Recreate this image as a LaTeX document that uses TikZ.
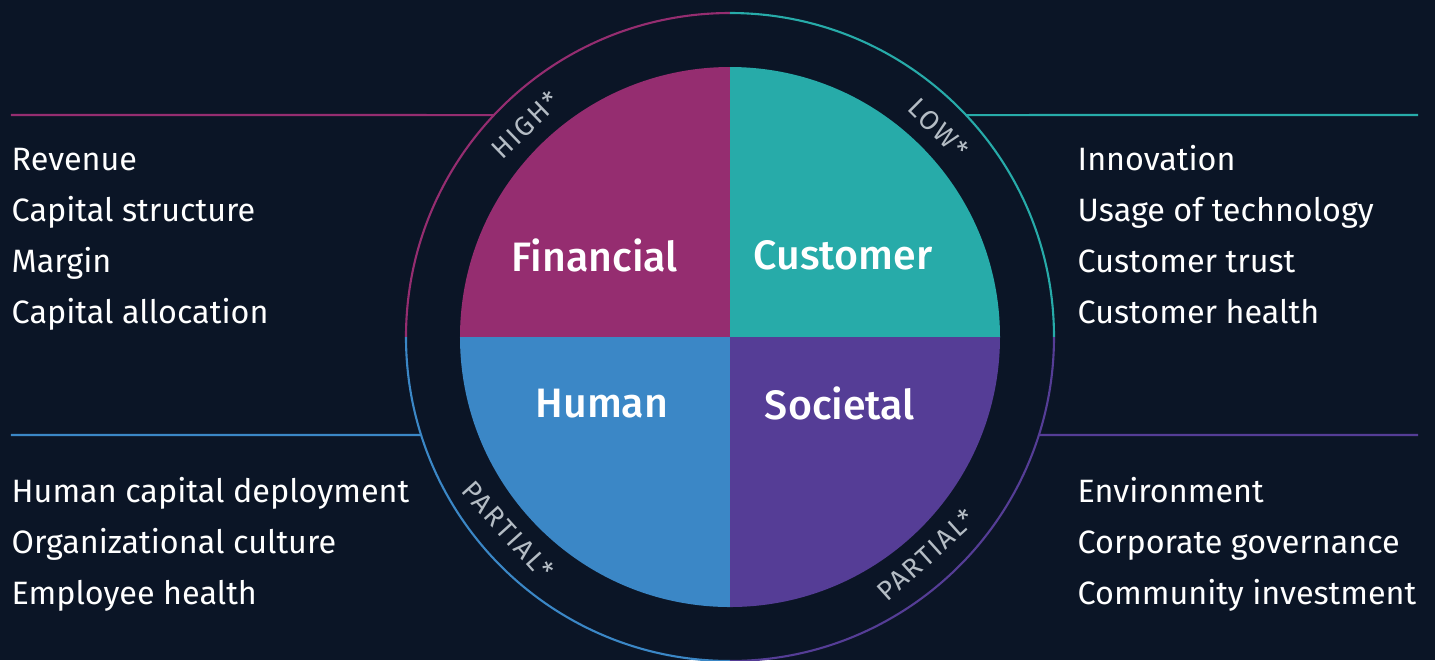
\documentclass[tikz,border=0pt]{standalone}
\usepackage{fontspec}
\setmainfont{Fira Sans}[BoldFont={Fira Sans Medium}]
\usepackage{tikz}

\definecolor{bgnavy}{HTML}{0B1526}
\definecolor{finmag}{HTML}{952D70}
\definecolor{custeal}{HTML}{27ABA9}
\definecolor{humblue}{HTML}{3B87C6}
\definecolor{socpurp}{HTML}{553D96}
\definecolor{ringgray}{HTML}{B4BCC4}

\tikzset{
  listitem/.style={anchor=base west, inner sep=0pt, text=white, font=\fontsize{9.2}{12}\selectfont},
  quadlabel/.style={text=white, inner sep=0pt, font=\fontsize{11.7}{14}\selectfont\bfseries},
  ringlabel/.style={text=ringgray, inner sep=0pt, font=\fontsize{7.7}{9}\selectfont\addfontfeatures{LetterSpace=8}},
  ringline/.style={line width=0.6pt},
}

\begin{document}
\begin{tikzpicture}

% Background
\fill[bgnavy] (-7.30,-3.23) rectangle (7.05,3.37);
\useasboundingbox (-7.30,-3.23) rectangle (7.05,3.37);

% Quadrants
\fill[finmag] (0,0) -- (0,2.7) arc[start angle=90, end angle=180, radius=2.7] -- cycle;
\fill[custeal] (0,0) -- (2.7,0) arc[start angle=0, end angle=90, radius=2.7] -- cycle;
\fill[humblue] (0,0) -- (-2.7,0) arc[start angle=180, end angle=270, radius=2.7] -- cycle;
\fill[socpurp] (0,0) -- (0,-2.7) arc[start angle=270, end angle=360, radius=2.7] -- cycle;

% Outer ring
\draw[ringline, finmag] (0,3.24) arc[start angle=90, end angle=180, radius=3.24];
\draw[ringline, custeal] (3.24,0) arc[start angle=0, end angle=90, radius=3.24];
\draw[ringline, humblue] (-3.24,0) arc[start angle=180, end angle=270, radius=3.24];
\draw[ringline, socpurp] (0,-3.24) arc[start angle=270, end angle=360, radius=3.24];

% Ring labels
\node[ringlabel, rotate=44] (high) at (134:2.95) {HIGH*};
\node[ringlabel, rotate=-45] (low) at (45:2.95) {LOW*};
\node[ringlabel, rotate=-48] (parthum) at (221:2.94) {PARTIAL*};
\node[ringlabel, rotate=42] (partsoc) at (-48:2.93) {PARTIAL*};

% Quadrant labels
\node[quadlabel] (fin) at (-1.35,0.82) {Financial};
\node[quadlabel] (cust) at (1.13,0.82) {Customer};
\node[quadlabel] (hum) at (-1.28,-0.67) {Human};
\node[quadlabel] (soc) at (1.10,-0.66) {Societal};

% Leader lines
\coordinate (finstart) at (-7.19,2.22);
\coordinate (finend) at (136.76:3.24);
\coordinate (custstart) at (43.24:3.24);
\coordinate (custend) at (6.88,2.22);
\coordinate (humstart) at (-7.19,-0.98);
\coordinate (humend) at (197.6:3.24);
\coordinate (socstart) at (-17.6:3.24);
\coordinate (socend) at (6.88,-0.98);
\draw[ringline, finmag] (finstart) -- (finend);
\draw[ringline, custeal] (custstart) -- (custend);
\draw[ringline, humblue] (humstart) -- (humend);
\draw[ringline, socpurp] (socstart) -- (socend);

% Lists
\node[listitem] (fin1) at (-7.19,1.67) {Revenue};
\node[listitem] (fin2) at (-7.19,1.16) {Capital structure};
\node[listitem] (fin3) at (-7.19,0.65) {Margin};
\node[listitem] (fin4) at (-7.19,0.14) {Capital allocation};

\node[listitem] (cust1) at (3.47,1.67) {Innovation};
\node[listitem] (cust2) at (3.47,1.16) {Usage of technology};
\node[listitem] (cust3) at (3.47,0.65) {Customer trust};
\node[listitem] (cust4) at (3.47,0.14) {Customer health};

\node[listitem] (hum1) at (-7.19,-1.65) {Human capital deployment};
\node[listitem] (hum2) at (-7.19,-2.16) {Organizational culture};
\node[listitem] (hum3) at (-7.19,-2.67) {Employee health};

\node[listitem] (soc1) at (3.47,-1.65) {Environment};
\node[listitem] (soc2) at (3.47,-2.16) {Corporate governance};
\node[listitem] (soc3) at (3.47,-2.67) {Community investment};

\end{tikzpicture}
\end{document}
